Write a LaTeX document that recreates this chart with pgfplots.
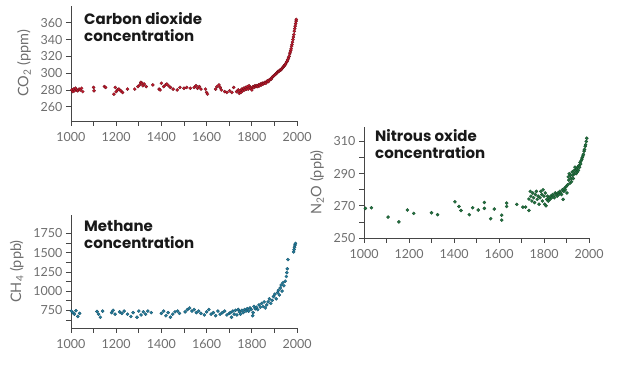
\documentclass[border=0pt]{standalone}
\usepackage{fontspec}
\setmainfont{Lato}
\newfontfamily\titlefont{Poppins}
\usepackage{pgfplots}
\pgfplotsset{compat=1.18}
\definecolor{axgray}{RGB}{70,70,70}
\definecolor{lblgray}{RGB}{110,110,110}
\definecolor{co2fill}{RGB}{195,25,45}
\definecolor{co2draw}{RGB}{110,15,25}
\definecolor{ch4fill}{RGB}{35,125,155}
\definecolor{ch4draw}{RGB}{20,80,105}
\definecolor{n2ofill}{RGB}{35,115,65}
\definecolor{n2odraw}{RGB}{20,75,40}
\pgfplotsset{
  myax/.style={
    scale only axis, anchor=south west,
    width=226pt,
    axis lines=left, axis line style={-, color=axgray, line width=0.7pt},
    xmin=1000, xmax=2000,
    xtick={1000,1200,...,2000}, minor xtick={1100,1300,...,1900},
    tick align=outside, major tick length=5pt, minor tick length=5pt,
    every tick/.style={color=axgray, line width=0.7pt},
    tick label style={font=\fontsize{12.5}{13}\selectfont, color=lblgray},
    /pgf/number format/1000 sep={},
    /pgf/number format/assume math mode=true,
    xticklabel style={yshift=-3pt},
    label style={font=\fontsize{14.5}{15}\selectfont, color=lblgray},
    ylabel shift=3pt,
    clip=false,
  },
  dots/.style={only marks, mark=*, mark size=1.6pt, mark options={fill=#1fill, draw=#1draw, line width=0.3pt}},
}
\tikzset{ttl/.style={anchor=base west, inner sep=0pt, font=\fontsize{15}{17}\titlefont\bfseries, text=black!90}}
\begin{document}
\begin{tikzpicture}
\useasboundingbox (0pt,0pt) rectangle (624pt,369pt);
% ---------------- CO2 ----------------
\begin{axis}[myax, at={(71pt,248pt)}, height=115pt,
  ymin=243, ymax=380, ytick={260,280,...,360},
  ylabel={CO\textsubscript{2} (ppm)}]
\addplot[dots=co2] table {
1004 280
1008 278
1012 281
1016 279
1020 282
1025 280
1030 279
1036 281
1041 280
1047 282
1052 278
1100 283
1102 279
1148 284
1153 283
1190 275
1196 283
1200 278
1206 280
1212 281
1220 279
1228 277
1250 281
1282 281
1296 284
1304 286
1309 289
1314 288
1318 285
1324 287
1333 284
1362 286
1390 281
1394 280
1400 288
1410 284
1418 286
1424 287
1432 285
1440 283
1452 281
1470 280
1482 283
1500 282
1512 283
1528 282
1545 283
1553 285
1560 282
1568 284
1575 281
1595 281
1600 277
1604 275
1640 281
1646 284
1655 286
1660 283
1665 280
1680 278
1690 277
1702 279
1712 277
1720 283
1733 278
1740 280
1744 276
1748 279
1752 277
1756 281
1760 279
1764 282
1768 280
1772 283
1776 281
1780 284
1784 281
1788 285
1792 283
1796 282
1800 280
1803 283
1806 284
1810 283
1814 285
1818 284
1822 285
1826 284
1830 286
1834 285
1838 287
1842 286
1846 288
1850 287
1854 288
1858 289
1862 288
1866 290
1870 291
1874 290
1878 292
1882 293
1886 293
1890 295
1894 296
1898 297
1902 298
1906 299
1910 300
1913 301
1916 302
1920 302
1923 303
1926 304
1929 304
1932 305
1935 306
1938 307
1941 308
1944 309
1947 310
1950 311
1953 313
1956 314
1959 316
1962 318
1965 320
1968 323
1970 325
1972 327
1974 329
1976 332
1978 334
1980 337
1982 340
1984 343
1986 346
1988 350
1990 353
1992 356
1994 359
1996 362
1997 364
};
\end{axis}
\node[ttl] at (84pt,344pt) {Carbon dioxide};
\node[ttl] at (84pt,327pt) {concentration};
% ---------------- CH4 ----------------
\begin{axis}[myax, at={(71pt,41pt)}, height=113pt,
  ymin=520, ymax=1990, ytick={750,1000,...,1750}, minor ytick={625,875,...,1625},
  ylabel={CH\textsubscript{4} (ppb)}]
\addplot[dots=ch4] table {
1002 740
1008 720
1015 700
1022 745
1030 670
1038 710
1115 735
1122 700
1130 660
1140 740
1180 720
1186 750
1195 700
1215 730
1225 710
1235 740
1250 700
1265 670
1275 720
1292 660
1300 740
1310 690
1320 730
1330 700
1340 740
1355 720
1400 710
1410 740
1420 680
1430 720
1440 660
1450 700
1460 730
1472 740
1480 710
1505 730
1515 760
1525 780
1535 740
1545 760
1555 720
1565 740
1575 710
1590 690
1600 730
1610 760
1620 700
1630 720
1640 680
1650 740
1660 700
1670 720
1680 740
1690 690
1700 710
1705 720
1710 660
1716 740
1722 700
1728 750
1734 690
1740 760
1745 730
1750 700
1756 750
1762 720
1768 760
1774 740
1780 770
1786 740
1792 780
1798 760
1804 680
1806 720
1810 800
1815 770
1820 790
1826 760
1832 820
1838 790
1844 840
1850 800
1855 860
1860 780
1866 820
1872 860
1878 900
1884 840
1890 880
1896 930
1902 960
1908 900
1914 980
1918 1010
1922 950
1926 1040
1930 1080
1934 1000
1938 1110
1942 1070
1948 1130
1953 1190
1955 1240
1957 1290
1960 1410
1985 1510
1987 1540
1989 1570
1991 1600
1993 1620
};
\end{axis}
\node[ttl] at (84pt,137pt) {Methane};
\node[ttl] at (84pt,120pt) {concentration};
% ---------------- N2O ----------------
\begin{axis}[myax, at={(364pt,131pt)}, width=225pt, height=111pt,
  ymin=250, ymax=319, ytick={250,270,...,310}, minor ytick={260,280,300},
  ylabel={N\textsubscript{2}O (ppb)}]
\addplot[dots=n2o] table {
1006 268.4
1033 268.8
1107 263
1155 260
1193 267.4
1221 265.3
1300 265.7
1327 264.5
1404 272.5
1422 269.6
1431 267.1
1468 264.5
1483 268.8
1508 267.4
1535 272.1
1535 268.4
1563 262
1579 268
1612 264.2
1612 261.1
1634 271.7
1634 269.6
1679 270.9
1706 269.2
1718 269.2
1733 274.2
1733 267.1
1739 279
1742 276
1746 273
1750 278
1754 275
1758 272
1762 277
1766 279
1770 274
1774 276
1778 271
1782 275
1786 279
1790 277
1793 273
1796 280
1800 276
1803 271
1806 278
1809 270
1812 274
1816 276
1819 273
1822 275
1826 274
1830 276
1834 275
1838 277
1842 276
1846 275
1850 278
1854 277
1858 276
1862 278
1866 277
1870 279
1874 278
1878 277
1882 280
1885 274
1888 279
1891 281
1895 280
1899 282
1902 278
1905 283
1908 288
1910 286
1912 290
1915 284
1918 289
1920 287
1922 285
1925 291
1928 289
1930 287
1933 292
1935 290
1938 294
1940 292
1943 290
1945 293
1948 291
1950 294
1953 292
1955 295
1958 294
1960 297
1963 296
1965 298
1968 299
1970 300
1973 301
1975 302
1978 304
1980 305
1983 307
1985 308
1988 310
1990 312
};
\end{axis}
\node[ttl] at (375pt,227pt) {Nitrous oxide};
\node[ttl] at (375pt,210pt) {concentration};
\end{tikzpicture}
\end{document}
